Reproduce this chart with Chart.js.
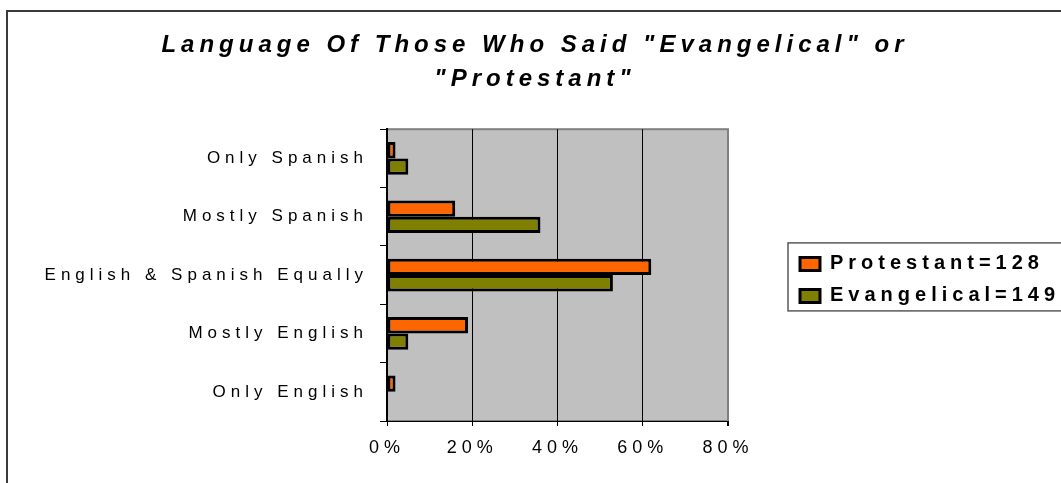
<!DOCTYPE html>
<html lang="en">
<head>
<meta charset="UTF-8">
<title>Language Of Those Who Said "Evangelical" or "Protestant"</title>
<script src="https://cdn.jsdelivr.net/npm/chart.js"></script>
<style>
    body{
        margin: 0;
        background: #ffffff;
        overflow: hidden;
    }
    .quadro{
        position: relative;
        width: 1061px;
        height: 483px;
        overflow: hidden;
    }
    .moldura{
        position: absolute;
        left: 6px;
        top: 10px;
        width: 1100px;
        height: 520px;
        border-top: 2px solid #3a3a3a;
        border-left: 2px solid #3a3a3a;
        pointer-events: none;
    }
</style>
</head>
<body>
<div class="quadro">
    <canvas id="grafico"></canvas>
    <div class="moldura"></div>
</div>
<script>
    const categorias = ['Only Spanish', 'Mostly Spanish', 'English & Spanish Equally', 'Mostly English', 'Only English'];
    const protestante = [2, 16, 62, 19, 2];
    const evangelico = [5, 36, 53, 5, 0];
    const nomesSeries = ['Protestant=128', 'Evangelical=149'];
    const escalaX = [0, 20, 40, 60, 80];
    const titulo = ['Language Of Those Who Said "Evangelical" or', '"Protestant"'];

    const fonte = "'Liberation Sans', Arial, sans-serif";
    const espaco = '5px';

    // texto espaçado em todo o gráfico
    const espacamento = {
        id: 'espacamento',
        beforeUpdate(chart){ chart.ctx.letterSpacing = espaco; },
        beforeLayout(chart){ chart.ctx.letterSpacing = espaco; },
        beforeDraw(chart){ chart.ctx.letterSpacing = espaco; }
    };

    // fundo cinza da área do gráfico
    const fundoPlot = {
        id: 'fundoPlot',
        beforeDraw(chart){
            const ctx = chart.ctx;
            const a = chart.chartArea;
            ctx.save();
            ctx.fillStyle = '#c0c0c0';
            ctx.fillRect(a.left, a.top, a.right - a.left, a.bottom - a.top);
            ctx.strokeStyle = '#808080';
            ctx.lineWidth = 2;
            ctx.strokeRect(a.left, a.top, a.right - a.left, a.bottom - a.top);
            ctx.restore();
        }
    };

    // moldura da legenda
    const caixaLegenda = {
        id: 'caixaLegenda',
        afterDraw(chart){
            const caixas = chart.legend.legendHitBoxes;
            if(!caixas || !caixas.length) return;
            const primeira = caixas[0];
            const ultima = caixas[caixas.length - 1];
            const ctx = chart.ctx;
            ctx.save();
            ctx.strokeStyle = '#5a5a5a';
            ctx.lineWidth = 1.5;
            ctx.strokeRect(primeira.left - 12, primeira.top - 11, chart.width,
                ultima.top + ultima.height - primeira.top + 16);
            ctx.restore();
        }
    };

    new Chart(document.getElementById('grafico'), {
        type: 'bar',
        data: {
            labels: categorias,
            datasets: [{
                label: nomesSeries[0],
                data: protestante,
                backgroundColor: '#ff6600',
                borderColor: '#000000',
                borderWidth: 3,
                borderSkipped: false
            }, {
                label: nomesSeries[1],
                data: evangelico,
                backgroundColor: '#808000',
                borderColor: '#000000',
                borderWidth: 3,
                borderSkipped: false
            }]
        },
        options: {
            indexAxis: 'y',
            responsive: true,
            maintainAspectRatio: false,
            animation: false,
            categoryPercentage: 0.56,
            barPercentage: 1.0,
            layout: { padding: { left: 10, right: 1, top: 12, bottom: 0 } },
            scales: {
                x: {
                    min: escalaX[0],
                    max: escalaX[escalaX.length - 1],
                    ticks: {
                        stepSize: escalaX[1] - escalaX[0],
                        callback: v => v + '%',
                        color: '#000',
                        font: { family: fonte, size: 18 },
                        padding: 11
                    },
                    grid: {
                        color: c => (c.tick && c.tick.value === escalaX[escalaX.length - 1]) ? '#808080' : '#000',
                        lineWidth: c => (c.tick && c.tick.value === escalaX[escalaX.length - 1]) ? 2 : 1,
                        tickColor: '#000',
                        tickLength: 5
                    },
                    border: { color: '#000', width: 1 },
                    afterFit(s){ s.height = 62; }
                },
                y: {
                    ticks: {
                        color: '#000',
                        font: { family: fonte, size: 17 },
                        padding: 12
                    },
                    grid: {
                        drawOnChartArea: false,
                        tickLength: 7,
                        color: '#000',
                        offset: true
                    },
                    border: { color: '#000', width: 2 },
                    afterFit(s){ s.width = 377; }
                },
                folga: {
                    type: 'linear',
                    axis: 'y',
                    position: 'right',
                    display: true,
                    ticks: { display: false },
                    grid: { display: false },
                    border: { display: false },
                    afterFit(s){ s.width = 60; }
                }
            },
            plugins: {
                tooltip: { enabled: false },
                title: {
                    display: true,
                    text: titulo,
                    color: '#000',
                    font: { family: fonte, size: 24, weight: 'bold', style: 'italic', lineHeight: 1.4 },
                    padding: { top: 17, bottom: 33 }
                },
                legend: {
                    position: 'right',
                    fullSize: false,
                    maxWidth: 272,
                    title: {
                        display: true,
                        text: ' ',
                        padding: 0,
                        font: { size: 8 }
                    },
                    labels: {
                        color: '#000',
                        font: { family: fonte, size: 20, weight: 'bold' },
                        boxWidth: 20,
                        boxHeight: 13,
                        padding: 12
                    }
                }
            }
        },
        plugins: [espacamento, fundoPlot, caixaLegenda]
    });
</script>
</body>
</html>
